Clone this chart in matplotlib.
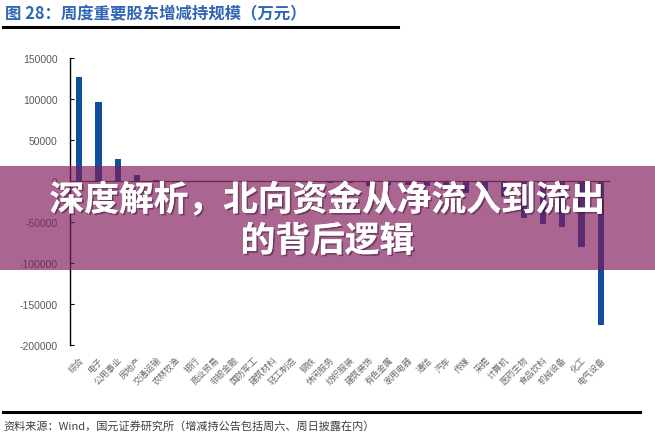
import matplotlib
matplotlib.use("Agg")
import matplotlib.pyplot as plt
from matplotlib.patches import Rectangle
from matplotlib.lines import Line2D
import matplotlib.patheffects as pe

plt.rcParams['font.family'] = ['Noto Sans CJK SC', 'DejaVu Sans']

categories = ["综合", "电子", "公用事业", "房地产", "交通运输", "农林牧渔", "银行",
              "商业贸易", "非银金融", "国防军工", "建筑材料", "轻工制造", "钢铁",
              "休闲服务", "纺织服装", "建筑装饰", "有色金属", "家用电器", "通信",
              "汽车", "传媒", "采掘", "计算机", "医药生物", "食品饮料", "机械设备",
              "化工", "电气设备"]
values = [127000, 96000, 27000, 7000, 1500, 500, 200,
          -300, -500, -800, -1000, -1200, -1500,
          -2000, -2500, -6000, -5000, -5000, -6000,
          -8000, -15000, -12000, -20000, -45000, -53000, -56000,
          -81000, -175000]
yticks = [150000, 100000, 50000, 0, -50000, -100000, -150000, -200000]

title = "图 28：周度重要股东增减持规模（万元）"
source = "资料来源：Wind，国元证券研究所（增减持公告包括周六、周日披露在内）"
banner1 = "深度解析，北向资金从净流入到流出"
banner2 = "的背后逻辑"

W, H = 655, 439
fig = plt.figure(figsize=(W / 100, H / 100), dpi=100)
ax = fig.add_axes([70 / W, 1 - 346 / H, (610 - 70) / W, (346 - 59) / H])

x = list(range(len(categories)))
ax.bar(x, values, width=0.32, color="#124E9E", zorder=2)
ax.set_xlim(-0.47, len(categories) - 0.53)
ax.set_ylim(-200000, 150000)
ax.axhline(0, color="#404040", lw=0.9, zorder=3)

for s in ["top", "right", "bottom"]:
    ax.spines[s].set_visible(False)
ax.spines["left"].set_color("black")
ax.spines["left"].set_linewidth(1.0)

ax.set_yticks(yticks)
ax.set_yticklabels([str(v) for v in yticks], family=["Liberation Sans", "DejaVu Sans"],
                   fontsize=7.5, color="#595959")
ax.tick_params(axis="y", direction="in", length=3, width=0.8, pad=9)

ax.set_xticks(x)
ax.set_xticklabels(categories, rotation=45, ha="right", va="top",
                   rotation_mode="anchor", fontsize=6.3, color="#6a6a6a")
ax.tick_params(axis="x", length=0, pad=7)

# title
fig.text(5 / W, 1 - 14 / H, title, fontsize=11.8, fontweight="bold", color="#2F66B3",
         va="center", ha="left")
fig.add_artist(Line2D([3 / W, 398 / W], [1 - 28 / H, 1 - 28 / H], color="black", lw=2.2))

# footer
fig.add_artist(Line2D([3 / W, 640 / W], [1 - 413 / H, 1 - 413 / H], color="black", lw=2.2))
fig.text(3 / W, 1 - 427 / H, source, fontsize=8, color="#404040", va="center", ha="left")

# banner overlay
fig.add_artist(Rectangle((0, 1 - 271 / H), 1, (271 - 167) / H, transform=fig.transFigure,
                         facecolor="#801B5A", alpha=0.67, edgecolor="none", zorder=10))
shadow = [pe.withSimplePatchShadow(offset=(1.2, -1.2), shadow_rgbFace="#3a1030", alpha=0.5),
          pe.Normal()]
fig.text(0.5, 1 - 201 / H, banner1, fontsize=25, fontweight="heavy", color="white",
         ha="center", va="center", zorder=11, path_effects=shadow)
fig.text(0.5, 1 - 242 / H, banner2, fontsize=25, fontweight="heavy", color="white",
         ha="center", va="center", zorder=11, path_effects=shadow)

fig.savefig("out.png", dpi=100)
